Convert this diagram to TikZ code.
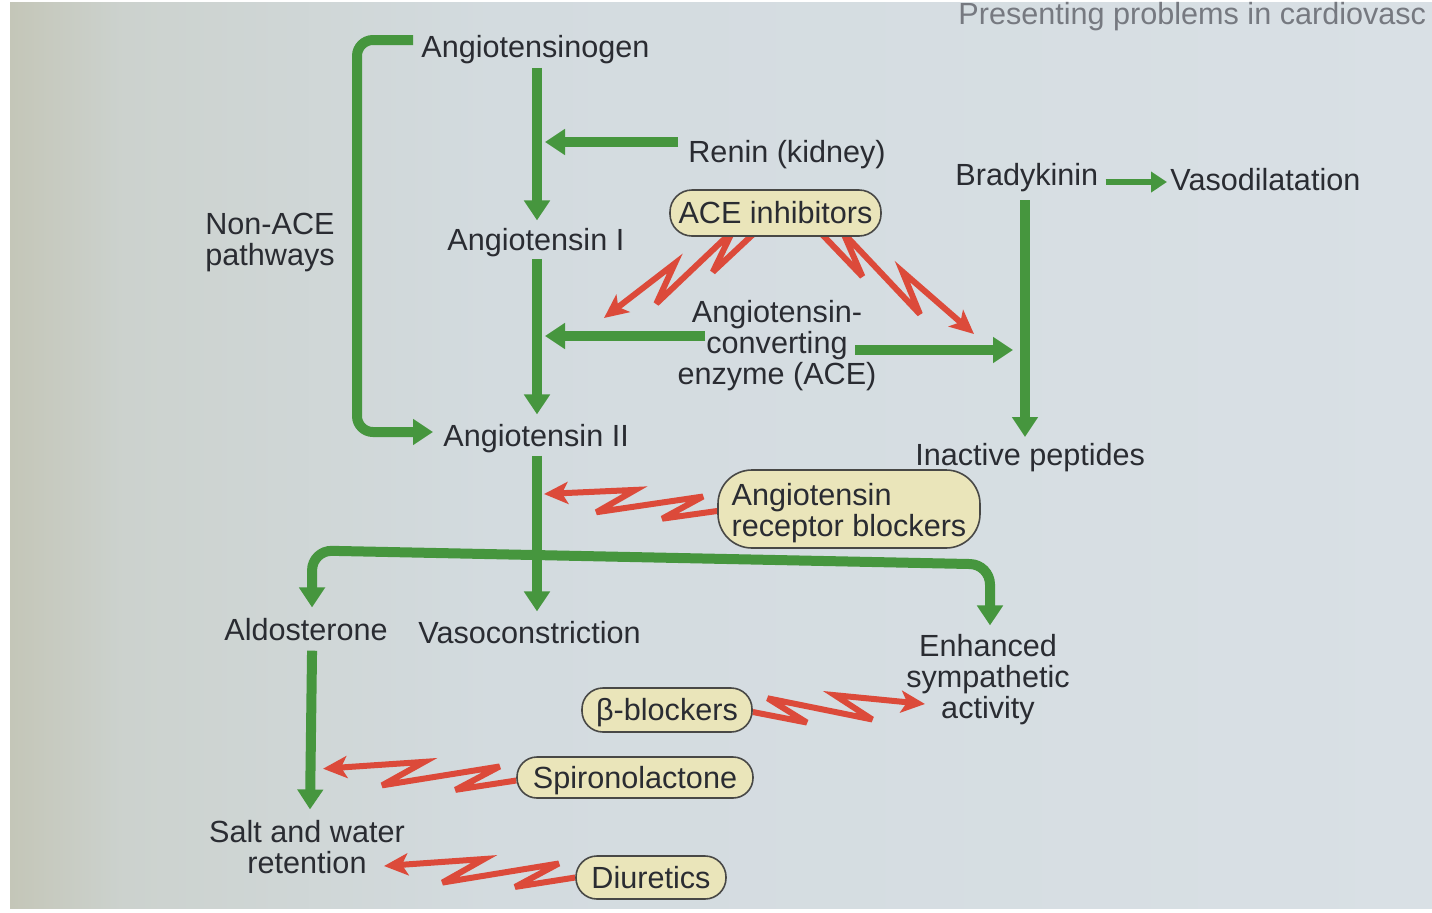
\documentclass[tikz,border=0pt]{standalone}
\usepackage{fontspec}
\setmainfont{Liberation Sans}
\usetikzlibrary{arrows.meta,calc}
\pgfdeclarelayer{bg}
\pgfdeclarelayer{back}
\pgfsetlayers{bg,back,main}
\definecolor{gr}{RGB}{70,150,62}
\definecolor{rd}{RGB}{220,74,58}
\definecolor{bx}{RGB}{234,229,186}
\definecolor{bxl}{RGB}{72,72,70}
\definecolor{tx}{RGB}{42,44,50}
\definecolor{hd}{RGB}{118,121,128}
\definecolor{c0}{RGB}{196,198,184}
\definecolor{c1}{RGB}{204,210,206}
\definecolor{c2}{RGB}{211,219,223}
\definecolor{c3}{RGB}{217,224,229}
\pgfdeclarehorizontalshading{pagebg}{100bp}{color(0bp)=(c0); color(25bp)=(c0); color(29bp)=(c1); color(42bp)=(c2); color(75bp)=(c3); color(100bp)=(c3)}
\newcommand\ml[2]{\begin{tabular}[t]{@{}#1@{}}#2\end{tabular}}
\newcommand\zap[3]{%
  \draw[bolt] (#1) -- ($(#1)!0.31!(#2)!6.5pt!#3:(#2)$) -- ($(#1)!0.09!(#2)!-6.5pt!#3:(#2)$)
    -- ($(#1)!0.69!(#2)!6.5pt!#3:(#2)$) -- ($(#1)!0.48!(#2)!-6.5pt!#3:(#2)$) -- (#2);}
\tikzset{
  every node/.style={font=\fontsize{15.3}{15.4}\selectfont, text=tx, inner sep=0pt},
  lbl/.style={anchor=base west},
  clbl/.style={anchor=base},
  drug/.style={draw=bxl, fill=bx, line width=0.8pt},
  single/.style={text height=10.8pt, text depth=0pt},
  garrow/.style={draw=gr, line width=5pt, -{Triangle[width=12.5pt,length=10pt]}},
  gboth/.style={draw=gr, line width=5pt, {Triangle[width=12.5pt,length=10pt]}-{Triangle[width=12.5pt,length=10pt]}},
  gsmall/.style={draw=gr, line width=3pt, -{Triangle[width=10pt,length=8pt]}},
  bolt/.style={draw=rd, line width=3pt, line join=miter, miter limit=5, -{Stealth[length=12pt,width=11pt,inset=3pt]}}
}
\begin{document}
\begin{tikzpicture}[x=0.5pt,y=-0.5pt]
\useasboundingbox (0,0) rectangle (1432,912);
\begin{pgfonlayer}{bg}
  \fill[white] (0,0) rectangle (1432,912);
  \shade[shading=pagebg] (10,2) rectangle (1432,908);
  \node[lbl, text=hd] (hdr) at (958,24) {Presenting problems in cardiovasc};
\end{pgfonlayer}

% coordinates of the vertical axes
\coordinate (mx) at (537,0);
\coordinate (bx) at (1025,0);

% text nodes
\node[lbl] (ag) at (421,57) {Angiotensinogen};
\node[lbl] (ren) at (688,162) {Renin (kidney)};
\node[lbl] (brady) at (955,185) {Bradykinin};
\node[lbl] (vaso) at (1170,190) {Vasodilatation};
\node[clbl] (nonace) at (270,234) {\ml{c}{Non-ACE\\pathways}};
\node[lbl] (a1) at (447,250) {Angiotensin I};
\node[clbl] (acetxt) at (777,322) {\ml{c}{Angiotensin-\\converting\\enzyme (ACE)}};
\node[lbl] (a2) at (443,446) {Angiotensin II};
\node[lbl] (inact) at (915,465) {Inactive peptides};
\node[lbl] (ald) at (224,640) {Aldosterone};
\node[lbl] (vc) at (418,643) {Vasoconstriction};
\node[clbl] (esa) at (988,656) {\ml{c}{Enhanced\\sympathetic\\activity}};
\node[clbl] (salt) at (307,842) {\ml{c}{Salt and water\\retention}};

% drug boxes
\node[drug, single, minimum width=105.5pt, minimum height=23pt, rounded corners=11pt] (aceinh) at (775.5,213) {ACE inhibitors};
\node[drug, minimum width=131pt, minimum height=39pt, rounded corners=17pt, text height=10.7pt, text depth=14.7pt] (arb) at (849,509) {\ml{l}{Angiotensin\\receptor blockers}};
\node[drug, single, minimum width=85pt, minimum height=22pt, rounded corners=10.5pt] (beta) at (667,710) {β-blockers};
\node[drug, single, minimum width=118pt, minimum height=20.5pt, rounded corners=10pt] (spiro) at (635,777.5) {Spironolactone};
\node[drug, single, minimum width=75pt, minimum height=21.5pt, rounded corners=10.5pt] (diur) at (651,877.5) {Diuretics};

% green pathway arrows
\draw[garrow] ($(ag.south -| mx)+(0,4)$) -- ($(a1.north -| mx)+(0,-7)$);
\draw[garrow] ($(ren.base west)+(-10,-20)$) -- ($(mx |- ren.base west)+(8,-20)$);
\draw[garrow] ($(a1.south -| mx)+(0,2)$) -- ($(a2.north -| mx)+(0,-9)$);
\draw[garrow] ($(acetxt.base)+(-72,14)$) -- ($(mx |- acetxt.base)+(8,14)$);
\draw[garrow] ($(acetxt.base)+(78,28)$) -- ($(bx |- acetxt.base)+(-12,28)$);
\draw[gsmall] ($(brady.base east)+(7,-3)$) -- ($(vaso.base west)+(-3,-8)$);
\draw[garrow] ($(bx |- brady.base)+(0,15)$) -- ($(bx |- inact.base)+(0,-28)$);
\draw[garrow, rounded corners=8pt] ($(ag.base west)+(-8,-17)$) -| ($(a2.base west)+(-86,-14)$) -- ($(a2.base west)+(-10,-14)$);
\draw[garrow] ($(a2.south -| mx)+(0,3)$) -- ($(vc.north -| mx)+(0,-9)$);
\draw[gboth, rounded corners=10pt] ($(ald.north)+(6,-10)$) -- ($(ald.north)+(6,-67)$) -- ($(esa.north)+(2,-69)$) -- ($(esa.north)+(2,-8)$);
\draw[garrow] ($(ald.south)+(6,10)$) -- ($(salt.north)+(3,-10)$);

% red inhibition bolts (behind the boxes)
\coordinate (z1s) at ($(aceinh.south)+(-23,-2)$);
\coordinate (z1e) at ($(acetxt.base)+(-173,-4)$);
\coordinate (z2s) at ($(aceinh.south)+(47,-2)$);
\coordinate (z2e) at ($(acetxt.base)+(197,12)$);
\coordinate (z3s) at ($(arb.west)+(0,2)$);
\coordinate (z3e) at ($(mx |- arb.west)+(7,-15)$);
\coordinate (z4s) at ($(beta.east)+(0,2)$);
\coordinate (z4e) at ($(esa.base)+(-63,48)$);
\coordinate (z5s) at ($(spiro.west)+(0,3)$);
\coordinate (z5e) at ($(ald.south)+(17,128)$);
\coordinate (z6s) at (diur.west);
\coordinate (z6e) at ($(salt.base)+(77,24)$);
\begin{pgfonlayer}{back}
\zap{z1s}{z1e}{90}
\zap{z2s}{z2e}{-90}
\zap{z3s}{z3e}{90}
\zap{z4s}{z4e}{-90}
\zap{z5s}{z5e}{90}
\zap{z6s}{z6e}{90}
\end{pgfonlayer}
\end{tikzpicture}
\end{document}
